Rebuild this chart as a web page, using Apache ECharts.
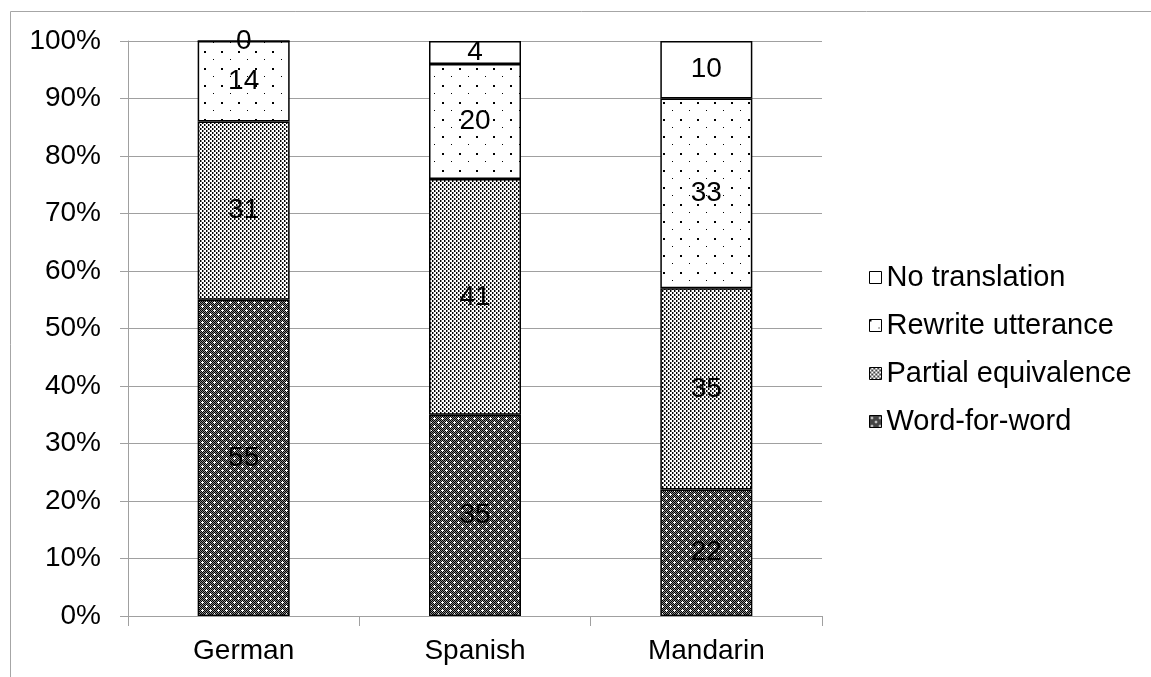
<!DOCTYPE html>
<html>
<head>
<meta charset="utf-8">
<script src="https://cdn.jsdelivr.net/npm/echarts@6/dist/echarts.min.js"></script>
<style>
  html, body { margin: 0; padding: 0; background: #fff; }
  #chart { width: 1151px; height: 677px; }
</style>
</head>
<body>
<div id="chart"></div>
<script>
const languages = ['German', 'Spanish', 'Mandarin'];
const wordForWord = [55, 35, 22];
const partialEquivalence = [31, 41, 35];
const rewriteUtterance = [14, 20, 33];
const noTranslation = [0, 4, 10];
const legendOrder = ['No translation', 'Rewrite utterance', 'Partial equivalence', 'Word-for-word'];

const FONT = '"Liberation Sans", Arial, sans-serif';
const FONT_SIZE = 28;

// small canvas tiles for the hatch fills
function makeTile(w, h, draw) {
    const c = document.createElement('canvas');
    c.width = w;
    c.height = h;
    const ctx = c.getContext('2d');
    ctx.fillStyle = '#fff';
    ctx.fillRect(0, 0, w, h);
    draw(ctx);
    return c;
}

function px(ctx, color, x, y, w, h) {
    ctx.fillStyle = color;
    ctx.fillRect(x, y, w || 1, h || 1);
}

// dark checker with little white crosses
const denseTile = makeTile(8, 8, ctx => {
    for (let y = 0; y < 8; y++) {
        for (let x = 0; x < 8; x++) {
            px(ctx, (x + y) % 2 === 0 ? '#000' : '#8a8a8a', x, y);
        }
    }
    [[2, 2], [6, 6]].forEach(([cx, cy]) => {
        px(ctx, '#fff', cx - 1, cy);
        px(ctx, '#fff', cx + 1, cy);
        px(ctx, '#fff', cx, cy - 1);
        px(ctx, '#fff', cx, cy + 1);
        px(ctx, '#fff', cx, cy);
    });
});

// small black specks on white
const mediumTile = makeTile(4, 4, ctx => {
    px(ctx, '#000', 0, 0, 1, 2);
    px(ctx, '#888', 1, 0, 1, 2);
    px(ctx, '#000', 2, 2, 1, 2);
    px(ctx, '#888', 3, 2, 1, 2);
});

// sparse dots
const sparseTile = makeTile(17, 17, ctx => {
    px(ctx, '#000', 0, 0, 2, 2);
    px(ctx, '#000', 9, 8, 1, 1);
});

function pattern(tile) {
    return { image: tile, repeat: 'repeat' };
}

function barSeries(name, data, fill) {
    return {
        name: name,
        type: 'bar',
        stack: 'total',
        barWidth: 92,
        data: data,
        itemStyle: { color: fill, borderColor: '#000', borderWidth: 1.5 },
        label: {
            show: true,
            position: 'inside',
            color: '#000',
            fontSize: FONT_SIZE,
            fontFamily: FONT
        }
    };
}

const chart = echarts.init(document.getElementById('chart'));
chart.setOption({
    animation: false,
    backgroundColor: '#fff',
    graphic: [{
        type: 'rect',
        shape: { x: 10.5, y: 11.5, width: 1300, height: 1000 },
        style: { fill: 'none', stroke: '#a6a6a6', lineWidth: 1 },
        silent: true
    }],
    grid: { left: 128, right: 329, top: 41, bottom: 61 },
    legend: {
        orient: 'vertical',
        left: 864,
        top: 258,
        data: legendOrder,
        icon: 'rect',
        itemWidth: 12,
        itemHeight: 12,
        itemGap: 19,
        itemStyle: { borderColor: '#000', borderWidth: 1 },
        textStyle: { fontSize: 29, fontFamily: FONT, color: '#000', padding: [0, 0, 0, 0] }
    },
    xAxis: {
        type: 'category',
        data: languages,
        axisLine: { lineStyle: { color: '#a0a0a0', width: 1 } },
        axisTick: { show: true, length: 10, lineStyle: { color: '#a0a0a0' } },
        axisLabel: { color: '#000', fontSize: FONT_SIZE, fontFamily: FONT, margin: 21 }
    },
    yAxis: {
        type: 'value',
        min: 0,
        max: 100,
        interval: 10,
        axisLine: { show: true, lineStyle: { color: '#a0a0a0', width: 1 } },
        axisTick: { show: true, length: 8, lineStyle: { color: '#a0a0a0' } },
        splitLine: { lineStyle: { color: '#a0a0a0', width: 1 } },
        axisLabel: {
            color: '#000',
            fontSize: FONT_SIZE,
            fontFamily: FONT,
            margin: 27,
            formatter: '{value}%'
        }
    },
    series: [
        barSeries('Word-for-word', wordForWord, pattern(denseTile)),
        barSeries('Partial equivalence', partialEquivalence, pattern(mediumTile)),
        barSeries('Rewrite utterance', rewriteUtterance, pattern(sparseTile)),
        barSeries('No translation', noTranslation, '#fff')
    ]
});
</script>
</body>
</html>
